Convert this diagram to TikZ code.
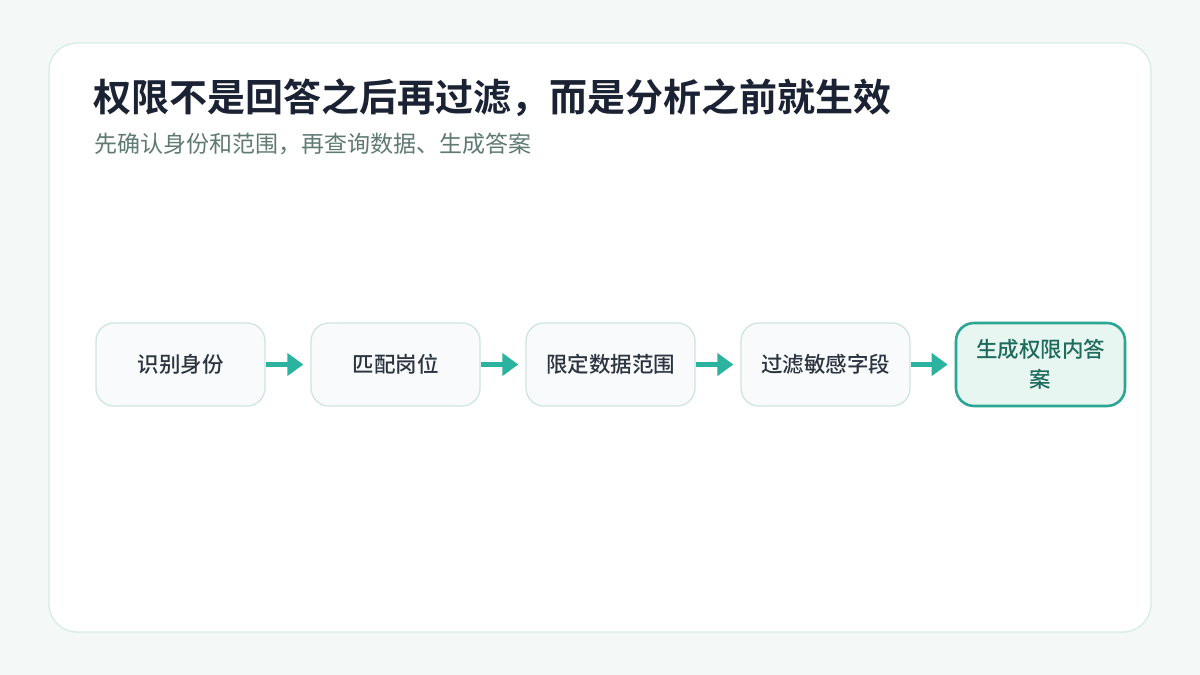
\documentclass[tikz,border=0pt]{standalone}
\usepackage{fontspec}
\setmainfont{Noto Sans CJK SC}[BoldFont={Noto Sans CJK SC Bold}]
\newfontfamily\medfont{Noto Sans CJK SC Medium}
\usetikzlibrary{arrows.meta}
\definecolor{pagebg}{HTML}{F4F8F7}
\definecolor{cardline}{HTML}{D8ECE7}
\definecolor{boxfill}{HTML}{F8FAFC}
\definecolor{boxline}{HTML}{CFE5DF}
\definecolor{teal}{HTML}{2BB39F}
\definecolor{tealdark}{HTML}{2BA594}
\definecolor{lastfill}{HTML}{E8F6F1}
\definecolor{titlecol}{HTML}{1A2233}
\definecolor{subcol}{HTML}{5F7A72}
\definecolor{textcol}{HTML}{2D3440}
\definecolor{lasttext}{HTML}{1E6B5C}
\tikzset{
  stepbox/.style={draw=boxline, line width=1.3pt, fill=boxfill, rounded corners=18pt,
    minimum width=169pt, minimum height=83pt, inner sep=0pt,
    font=\medfont\fontsize{21.5}{30}\selectfont, text=textcol, align=center},
  finalbox/.style={stepbox, draw=tealdark, line width=2.6pt, fill=lastfill, text=lasttext},
  flow/.style={draw=teal, line width=4.5pt, -{Triangle[length=16pt,width=22pt]}, shorten >=7pt}
}
\begin{document}
\begin{tikzpicture}[x=1pt,y=-1pt]
\useasboundingbox (0,0) rectangle (1200,675);
\fill[pagebg] (0,0) rectangle (1200,675);
\draw[cardline, fill=white, line width=1.3pt, rounded corners=28pt] (49,43) rectangle (1151,632);
\node[anchor=west, inner sep=0pt, text=titlecol, font=\bfseries\fontsize{38}{44}\selectfont] (title) at (93,98) {权限不是回答之后再过滤，而是分析之前就生效};
\node[anchor=west, inner sep=0pt, text=subcol, font=\fontsize{23}{26}\selectfont] (sub) at (94,144) {先确认身份和范围，再查询数据、生成答案};
\node[stepbox] (b1) at (180.5,364.5) {识别身份};
\node[stepbox] (b2) at (395.5,364.5) {匹配岗位};
\node[stepbox] (b3) at (610.5,364.5) {限定数据范围};
\node[stepbox] (b4) at (825.5,364.5) {过滤敏感字段};
\node[finalbox] (b5) at (1040.5,364.5) {生成权限内答\\案};
\draw[flow] (b1.east) -- (b2.west);
\draw[flow] (b2.east) -- (b3.west);
\draw[flow] (b3.east) -- (b4.west);
\draw[flow] (b4.east) -- (b5.west);
\end{tikzpicture}
\end{document}
